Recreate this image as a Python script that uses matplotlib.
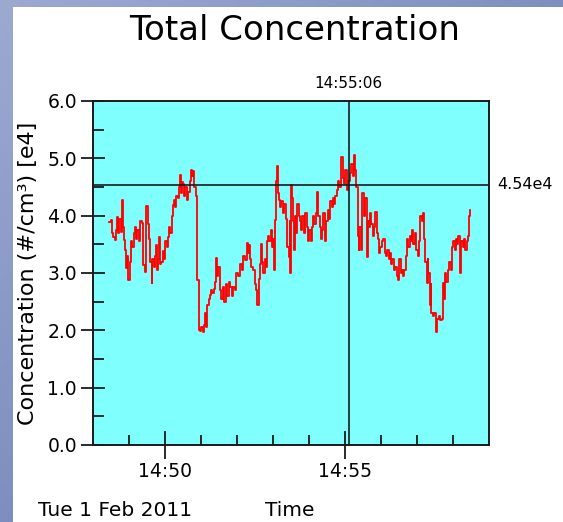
import numpy as np
import matplotlib
matplotlib.use("Agg")
import matplotlib.pyplot as plt
from matplotlib.ticker import FixedLocator, NullFormatter

# ---- data (seconds after 14:48:00, concentration in 1e4 #/cm3) ----
seconds = [27, 30, 32, 34, 36, 38, 40, 42, 44, 46, 48, 50, 51, 53, 55, 57, 59, 61, 63, 65,
           68, 70, 72, 74, 77, 79, 81, 83, 84, 87, 88, 89, 91, 93, 95, 98, 99, 102, 103, 105,
           107, 108, 110, 112, 114, 116, 118, 120, 123, 125, 127, 129, 131, 133, 135, 137, 139, 142, 143, 145,
           147, 148, 150, 152, 154, 157, 159, 161, 163, 165, 167, 169, 171, 173, 174, 176, 178, 180, 183, 185,
           187, 188, 190, 193, 195, 197, 199, 202, 204, 205, 207, 209, 212, 214, 216, 218, 221, 224, 227, 228,
           231, 234, 237, 239, 242, 245, 248, 250, 253, 256, 258, 260, 262, 264, 267, 270, 272, 274, 276, 278,
           280, 282, 284, 286, 288, 290, 292, 294, 297, 299, 300, 302, 303, 305, 307, 308, 310, 312, 314, 317,
           319, 321, 323, 324, 326, 328, 329, 330, 332, 334, 335, 337, 339, 340, 343, 345, 347, 349, 352, 354,
           356, 358, 360, 363, 365, 367, 369, 372, 374, 375, 378, 380, 382, 384, 387, 389, 391, 393, 395, 398,
           400, 402, 404, 407, 409, 410, 413, 414, 416, 418, 420, 423, 425, 428, 430, 433, 435, 437, 439, 441,
           443, 444, 446, 448, 449, 452, 454, 456, 458, 460, 462, 464, 467, 469, 470, 473, 475, 477, 479, 482,
           484, 486, 488, 490, 493, 495, 497, 499, 502, 504, 506, 508, 510, 513, 515, 517, 519, 521, 523, 525,
           528, 530, 532, 534, 537, 539, 541, 543, 545, 548, 550, 552, 554, 556, 558, 559, 561, 563, 564, 567,
           569, 571, 572, 574, 577, 579, 581, 583, 585, 587, 589, 592, 594, 596, 598, 600, 603, 605, 607, 609,
           612, 614, 616, 618, 620, 623, 625, 627, 629]
conc_e4 = [3.89, 3.92, 3.70, 3.62, 3.58, 3.75, 3.98, 3.70, 3.95, 3.72, 4.27, 3.80, 3.58, 3.40, 3.09, 3.30, 2.88, 3.20, 3.55, 3.45,
           3.70, 3.81, 3.60, 3.75, 3.55, 3.90, 3.88, 3.40, 3.14, 3.02, 3.60, 4.16, 3.85, 3.60, 3.20, 2.82, 3.25, 3.10, 3.30, 3.49,
           3.05, 3.25, 3.63, 3.15, 3.20, 3.38, 3.25, 3.55, 3.45, 3.62, 3.80, 3.70, 4.00, 4.18, 4.28, 4.15, 4.35, 4.30, 4.50, 4.71,
           4.40, 4.58, 4.55, 4.35, 4.50, 4.28, 4.42, 4.60, 4.80, 4.70, 4.78, 4.50, 4.35, 4.00, 2.88, 2.00, 1.98, 2.05, 1.97, 2.10,
           2.30, 2.05, 2.45, 2.55, 2.62, 2.70, 2.65, 2.72, 2.85, 3.26, 2.95, 3.10, 2.70, 2.55, 2.75, 2.50, 2.80, 2.60, 2.85, 2.75,
           2.60, 2.75, 2.70, 3.00, 2.95, 3.15, 3.05, 3.30, 3.22, 3.52, 3.35, 3.48, 3.25, 3.10, 3.05, 2.80, 2.70, 2.44, 2.90, 3.15,
           3.50, 3.20, 3.00, 3.25, 3.10, 3.55, 3.65, 3.55, 3.75, 3.45, 3.60, 3.05, 3.92, 4.60, 4.86, 4.40, 4.27, 4.15, 4.25, 4.05,
           4.20, 3.95, 3.80, 3.45, 3.28, 3.90, 3.00, 4.54, 4.30, 3.90, 3.40, 4.00, 3.70, 4.20, 4.00, 3.90, 3.75, 4.00, 3.70, 4.05,
           3.80, 3.55, 3.75, 3.55, 3.80, 4.00, 3.85, 4.05, 4.42, 4.00, 3.80, 3.60, 3.75, 4.05, 3.55, 3.90, 4.10, 3.95, 4.25, 4.15,
           4.30, 4.20, 4.35, 4.45, 4.60, 4.50, 4.74, 5.02, 4.65, 4.55, 4.80, 4.45, 4.60, 4.75, 4.90, 4.70, 5.06, 4.80, 4.50, 3.65,
           3.40, 3.80, 3.40, 4.10, 4.40, 4.00, 4.30, 3.28, 3.90, 3.80, 4.05, 3.85, 3.65, 3.80, 4.07, 3.70, 3.60, 3.35, 3.45, 3.55,
           3.60, 3.35, 3.30, 3.40, 3.25, 3.35, 3.15, 3.25, 3.05, 3.10, 2.95, 2.88, 3.25, 3.00, 3.05, 2.95, 3.05, 3.30, 3.60, 3.45,
           3.65, 3.55, 3.75, 3.50, 3.70, 3.40, 3.30, 3.55, 4.00, 3.90, 4.05, 3.60, 3.20, 2.82, 3.25, 3.00, 2.45, 2.80, 2.30, 2.25,
           2.30, 2.15, 1.97, 2.20, 2.25, 2.18, 2.20, 2.82, 2.55, 3.00, 2.85, 3.05, 3.20, 3.05, 3.45, 3.55, 3.40, 3.60, 3.50, 3.65,
           3.00, 3.55, 3.45, 3.60, 3.40, 3.55, 3.65, 4.00, 4.10]

x_major_ticks = [120, 420]            # 14:50, 14:55
x_major_labels = ["14:50", "14:55"]
x_minor_ticks = [60, 180, 240, 300, 360, 480, 540, 600]
y_major_ticks = [0, 1, 2, 3, 4, 5, 6]
y_major_labels = ["0.0", "1.0", "2.0", "3.0", "4.0", "5.0", "6.0"]
y_minor_ticks = [0.5, 1.5, 2.5, 3.5, 4.5, 5.5]
cursor_time = 426                     # 14:55:06
cursor_time_label = "14:55:06"
cursor_value = 4.54
cursor_value_label = "4.54e4"
x_limits = (0, 660)
y_limits = (0, 6)

W, H = 563, 522
fig = plt.figure(figsize=(W / 100, H / 100), dpi=100)

# background slide gradient + white card
bg = fig.add_axes([0, 0, 1, 1], zorder=-10)
gx, gy = np.meshgrid(np.linspace(0, 1, 200), np.linspace(0, 1, 200))
t = (gx * 0.5 + gy * 0.5)
c1 = np.array([156, 170, 210]) / 255
c2 = np.array([96, 116, 172]) / 255
img = c1[None, None, :] * (1 - t[..., None]) + c2[None, None, :] * t[..., None]
bg.imshow(img, extent=[0, W, H, 0], aspect="auto")
bg.add_patch(plt.Rectangle((13, 7), W - 13, H - 7, facecolor="white", edgecolor="none"))
bg.set_xlim(0, W)
bg.set_ylim(H, 0)
bg.axis("off")

L, R, T, B = 93, 489, 101, 445
ax = fig.add_axes([L / W, (H - B) / H, (R - L) / W, (B - T) / H])
ax.set_facecolor("#80ffff")
ax.plot(seconds, conc_e4, color="#ff0000", lw=1.3, drawstyle="steps-post", zorder=3)
ax.axvline(cursor_time, color="#1a1a1a", lw=1.2, zorder=4)
ax.axhline(cursor_value, color="#1a1a1a", lw=1.2, zorder=4)

ax.set_xlim(*x_limits)
ax.set_ylim(*y_limits)
ax.xaxis.set_major_locator(FixedLocator(x_major_ticks))
ax.set_xticklabels(x_major_labels)
ax.xaxis.set_minor_locator(FixedLocator(x_minor_ticks))
ax.yaxis.set_major_locator(FixedLocator(y_major_ticks))
ax.set_yticklabels(y_major_labels)
ax.yaxis.set_minor_locator(FixedLocator(y_minor_ticks))
ax.yaxis.set_minor_formatter(NullFormatter())
ax.xaxis.set_minor_formatter(NullFormatter())

tc = "#1a1a1a"
ax.tick_params(axis="y", which="major", direction="inout", length=17, width=1.3,
               color=tc, labelsize=13.5, pad=3)
ax.tick_params(axis="y", which="minor", direction="in", length=8, width=1.3, color=tc)
ax.tick_params(axis="x", which="major", direction="inout", length=20, width=1.3,
               color=tc, labelsize=13.5, pad=2)
ax.tick_params(axis="x", which="minor", direction="in", length=7, width=1.3, color=tc)
for s in ax.spines.values():
    s.set_color(tc)
    s.set_linewidth(1.4)

ax.set_ylabel("Concentration (#/cm³) [e4]", fontsize=16, labelpad=7)

ax.text(cursor_time, 1.05, cursor_time_label, transform=ax.get_xaxis_transform(),
        ha="center", va="center", fontsize=11)
ax.text(1.022, cursor_value, cursor_value_label, transform=ax.get_yaxis_transform(),
        ha="left", va="center", fontsize=11.5)

fig.text(295 / W, 1 - 30 / H, "Total Concentration", ha="center", va="center", fontsize=24.5)
fig.text(38 / W, 1 - 511 / H, "Tue 1 Feb 2011", ha="left", va="center", fontsize=14.5)
fig.text(265 / W, 1 - 511 / H, "Time", ha="left", va="center", fontsize=14.5)

fig.savefig("out.png", dpi=100)
